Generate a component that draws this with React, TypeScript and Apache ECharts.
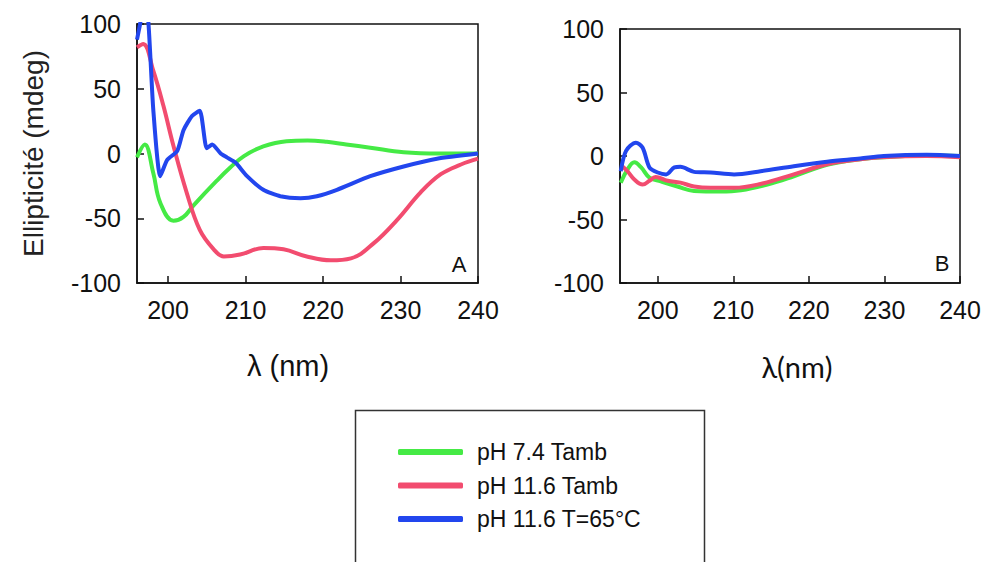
import React, { useEffect, useRef } from "react";
import * as echarts from "echarts";

const seriesNames = ["pH 7.4 Tamb", "pH 11.6 Tamb", "pH 11.6 T=65°C"];
const colors = ["#45ea45", "#f24c6f", "#2246ee"];

const xTicks = [200, 210, 220, 230, 240];
const yTicks = [-100, -50, 0, 50, 100];

// Panel A: [λ (nm), ellipticity (mdeg)]
const aGreen = [[196,-3],[197,7],[198.1,-15],[199,-38],[200.7,-52],[202,-49],[203.3,-40],[206.3,-21],[208,-11],[209.8,-2],[212.3,5.5],[215.3,9.5],[218,10],[220.5,9],[223,7],[226.1,4.5],[230.4,1],[235,0],[240,0]];
const aRed = [[196,82],[196.8,84.5],[198.1,64],[199.4,37],[200.7,6],[202.4,-30],[204.1,-59],[205.9,-74],[207.2,-79.5],[209.3,-78],[212.3,-73],[214.9,-74],[217.9,-79.5],[221,-82.5],[223.6,-81],[226.6,-69],[229.6,-51],[232.6,-30],[235.2,-16],[237.8,-8.5],[240,-4]];
const aBlue = [[196,88],[196.4,100],[196.7,110],[197.0,104],[197.3,110],[198.1,34],[199,-17.5],[199.9,-5],[201.2,2],[202,18],[203.1,29],[204.1,33],[205,4],[205.7,7],[206.8,0],[207.6,-3],[208.7,-7],[210.2,-17.5],[212.3,-28],[214.5,-33],[217.1,-34.5],[219.2,-33],[221.8,-28],[226.1,-17.5],[230.4,-10],[234.7,-4],[240,0]];

// Panel B
const bGreen = [[195.1,-21],[196,-10.5],[196.9,-5],[197.8,-9],[198.9,-17],[200.4,-20],[202.6,-24],[204.8,-27.5],[208.3,-28],[211,-27],[214.5,-22.5],[218,-16],[222.4,-7],[226.8,-2.5],[230,-1],[235.6,0.5],[240,0]];
const bRed = [[195.3,-8],[196,-12],[196.9,-18.5],[198,-22.5],[198.9,-19.5],[199.7,-16.5],[201.3,-19.5],[203,-21],[204.8,-24],[207,-25],[210.1,-25],[213.6,-22],[218,-14.5],[222.4,-6.5],[226.8,-2.5],[229.5,-1],[235.6,0],[240,-1]];
const bBlue = [[195.1,-12],[195.8,4],[197.1,10.5],[198,6.5],[198.9,-9],[200,-13],[201.1,-14.5],[202.2,-9],[203,-8.5],[204.8,-12.5],[207,-13],[210.1,-14.5],[213.6,-12],[218,-8],[222.4,-4.5],[226.8,-2],[229.9,0],[235.6,1],[240,0]];

const FONT = "Liberation Sans";

function xAxisDef(gridIndex: number, min: number) {
  return {
    type: "value",
    gridIndex,
    min,
    max: 240,
    axisLine: { show: true, onZero: false, lineStyle: { color: "#111", width: 1.5 } },
    axisTick: { show: true, inside: true, length: 7, customValues: xTicks, lineStyle: { color: "#111", width: 1.5 } },
    axisLabel: { customValues: xTicks, fontSize: 25, fontFamily: FONT, color: "#111", margin: 14, showMinLabel: true, showMaxLabel: true },
    splitLine: { show: false },
  };
}

function yAxisDef(gridIndex: number, name: string) {
  return {
    type: "value",
    gridIndex,
    min: yTicks[0],
    max: yTicks[yTicks.length - 1],
    interval: 50,
    name,
    nameLocation: "middle",
    nameGap: 90,
    nameTextStyle: { fontSize: 28, fontFamily: FONT, color: "#222" },
    axisLine: { show: true, onZero: false, lineStyle: { color: "#111", width: 1.5 } },
    axisTick: { show: true, inside: true, length: 7, lineStyle: { color: "#111", width: 1.5 } },
    axisLabel: { fontSize: 25, fontFamily: FONT, color: "#111", margin: 16 },
    splitLine: { show: false },
  };
}

function lineSeries(name: string, color: string, data: number[][], idx: number, smooth: number) {
  return {
    type: "line",
    name,
    xAxisIndex: idx,
    yAxisIndex: idx,
    data,
    showSymbol: false,
    symbol: "none",
    smooth,
    clip: true,
    lineStyle: { color, width: 4 },
    itemStyle: { color },
  };
}

export default function App() {
  const ref = useRef<HTMLDivElement>(null);
  useEffect(() => {
    if (!ref.current) return;
    const chart = echarts.init(ref.current, null, { renderer: "svg" });
    chart.setOption({
      animation: false,
      backgroundColor: "#fff",
      grid: [
        { left: 137, top: 24, width: 341, height: 259, show: true, borderColor: "#111", borderWidth: 1.5, backgroundColor: "transparent" },
        { left: 620, top: 29, width: 340, height: 254, show: true, borderColor: "#111", borderWidth: 1.5, backgroundColor: "transparent" },
      ],
      xAxis: [xAxisDef(0, 196), xAxisDef(1, 195)],
      yAxis: [yAxisDef(0, "Ellipticité (mdeg)"), yAxisDef(1, "")],
      legend: {
        data: seriesNames,
        orient: "vertical",
        left: 398,
        top: 439,
        padding: 0,
        itemWidth: 65,
        itemHeight: 6,
        itemGap: 7.5,
        icon: "roundRect",
        textStyle: { fontSize: 23, fontFamily: FONT, color: "#111", lineHeight: 26, padding: [0, 0, 0, 9] },
      },
      graphic: [
        { type: "rect", left: 353, top: 408, shape: { width: 349, height: 170 }, style: { fill: "none", stroke: "#333", lineWidth: 1.5 }, z: 0 },
        { type: "text", x: 288, y: 366, style: { text: "λ (nm)", fontSize: 29, fontFamily: FONT, fill: "#111", textAlign: "center", textVerticalAlign: "middle" } },
        { type: "text", x: 797, y: 366, style: { text: "λ(nm)", fontSize: 29, fontFamily: "Lato", fill: "#111", textAlign: "center", textVerticalAlign: "middle" } },
        { type: "text", x: 459, y: 264, style: { text: "A", fontSize: 22, fontFamily: FONT, fill: "#111", textAlign: "center", textVerticalAlign: "middle" } },
        { type: "text", x: 942, y: 263, style: { text: "B", fontSize: 22, fontFamily: FONT, fill: "#111", textAlign: "center", textVerticalAlign: "middle" } },
      ],
      series: [
        lineSeries(seriesNames[0], colors[0], aGreen, 0, 0.4),
        lineSeries(seriesNames[1], colors[1], aRed, 0, 0.4),
        lineSeries(seriesNames[2], colors[2], aBlue, 0, 0.2),
        lineSeries(seriesNames[0], colors[0], bGreen, 1, 0.4),
        lineSeries(seriesNames[1], colors[1], bRed, 1, 0.4),
        lineSeries(seriesNames[2], colors[2], bBlue, 1, 0.3),
      ],
    });
    return () => chart.dispose();
  }, []);
  return <div ref={ref} style={{ position: "absolute", left: 0, top: 0, width: 986, height: 562, background: "#fff" }} />;
}
